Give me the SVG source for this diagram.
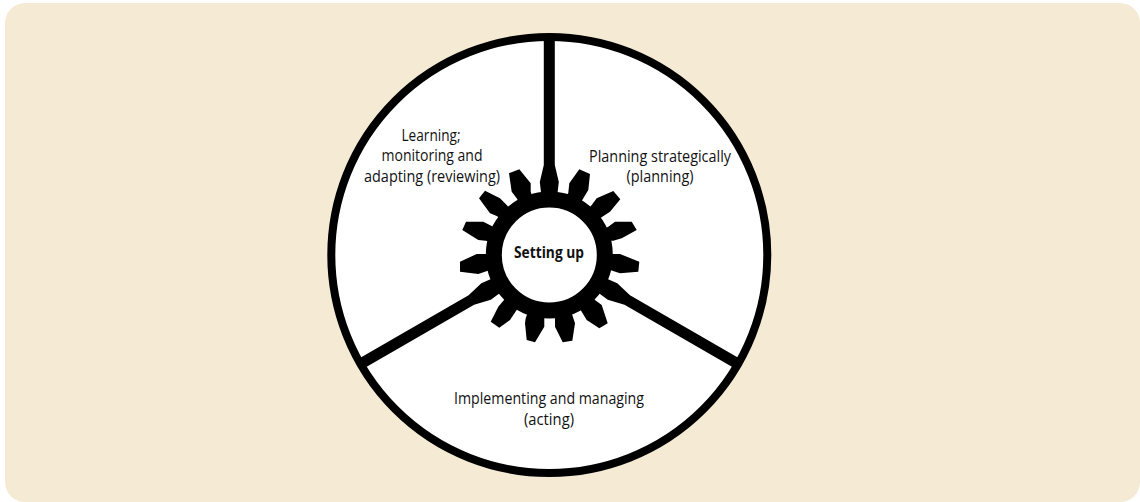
<svg xmlns="http://www.w3.org/2000/svg" width="1140" height="502" viewBox="0 0 1140 502">
<style>
.t{font-family:"Open Sans","Noto Sans",sans-serif;font-size:15.5px;fill:#111;text-anchor:middle}
.b{font-weight:700}
.k{fill:#000}
</style>
<defs>
<polygon id="spoke" class="k" points="-8,-60 -9.5,-73 -5.5,-90 -5.5,-218 5.5,-218 5.5,-90 9.5,-73 8,-60"/>
</defs>
<rect x="5" y="3" width="1135" height="499" rx="20" fill="#f5ebd4"/>
<g id="wheel">
<circle cx="549.3" cy="255" r="218" fill="#fff" stroke="#000" stroke-width="8"/>
</g>
<g id="connectors">
<use href="#spoke" transform="translate(549.3 255)"/>
<use href="#spoke" transform="translate(549.3 255) rotate(120)"/>
<use href="#spoke" transform="translate(549.3 255) rotate(240)"/>
</g>
<g id="gear" class="k">
<polygon points="579.3,169.3 590,174 588.3,190 583.3,198.3 549.3,255 568.3,192.7 569.3,183.3"/>
<polygon points="592.3,204.3 596.7,198.3 613.3,191 620.3,199.3 610,211.7 602.3,216.7 549.3,255"/>
<polygon points="608.3,226.7 615,221.7 631.7,221.7 636.7,230 621.7,238.3 613.3,240.7 608.3,240.7 549.3,255"/>
<polygon points="613.3,254 620,254 639.3,261.7 638.3,271.7 620,273.3 610,270 549.3,255"/>
<polygon points="595,300 601.7,305 607.7,323.3 599.3,328.3 586.7,320 581.7,311.7 549.3,255"/>
<polygon points="571.7,313.3 575,323.3 572.3,340.7 562.7,342.3 555,326.7 555,318.3 549.3,255"/>
<polygon points="525.7,318.3 549.3,255 544.3,318.3 544.3,326.7 535,342.3 526.7,340 525,323.3"/>
<polygon points="504,300 549.3,255 516,311 510,320 499.3,327.7 490.7,321.7 498.3,306.7"/>
<polygon points="485.7,254 476.7,254 460,261.7 460,271.7 478.3,274 490,270 549.3,255"/>
<polygon points="491.7,226 483.3,221.7 466,221.7 462.3,230 478.3,240 485.7,240.7 549.3,255"/>
<polygon points="506.7,205 500,198.3 485,190.7 479,198.3 490,213.3 496.7,216 549.3,255"/>
<polygon points="509,173.3 519.3,169.3 530.7,183.3 530.7,191.7 549.3,255 516.7,198.3 511.7,191.7"/>
<circle cx="549.3" cy="255" r="55.5" fill="#fff" stroke="#000" stroke-width="16"/>
</g>
<g id="setting-up"><text class="t b" x="549" y="258" textLength="70" lengthAdjust="spacingAndGlyphs">Setting up</text></g>
<g id="planning">
<text class="t" x="660" y="162" textLength="142" lengthAdjust="spacingAndGlyphs">Planning strategically</text>
<text class="t" x="660" y="182" textLength="67" lengthAdjust="spacingAndGlyphs">(planning)</text>
</g>
<g id="learning">
<text class="t" x="431" y="141" textLength="59" lengthAdjust="spacingAndGlyphs">Learning;</text>
<text class="t" x="432" y="161" textLength="101" lengthAdjust="spacingAndGlyphs">monitoring and</text>
<text class="t" x="432" y="182" textLength="136" lengthAdjust="spacingAndGlyphs">adapting (reviewing)</text>
</g>
<g id="implementing">
<text class="t" x="549" y="404" textLength="190" lengthAdjust="spacingAndGlyphs">Implementing and managing</text>
<text class="t" x="549" y="425" textLength="50" lengthAdjust="spacingAndGlyphs">(acting)</text>
</g>
</svg>
